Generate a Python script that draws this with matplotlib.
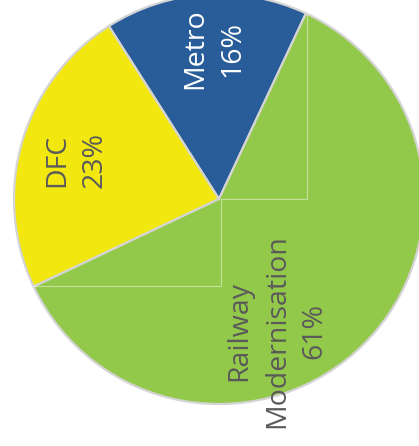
import matplotlib
matplotlib.use("Agg")
import matplotlib.pyplot as plt

# Investment share by segment
segments = ["Metro", "DFC", "Railway\nModernisation"]
shares = [16, 23, 61]
colors = ["#285d99", "#f2e80f", "#93c94a"]
label_colors = ["white", "#5a5a5a", "#5a5a5a"]

W, H = 419, 446
CX, CY, R = 219, 247, 205

fig = plt.figure(figsize=(W / 100, H / 100), dpi=100)
ax = fig.add_axes([0, 0, 1, 1])

wedges, _ = ax.pie(
    shares, colors=colors, startangle=64.9, counterclock=True,
    center=(CX, CY), radius=R,
    wedgeprops=dict(edgecolor="#d4d4d4", linewidth=1.6),
)
ax.set_xlim(0, W)
ax.set_ylim(0, H)
ax.set_aspect("equal")
ax.axis("off")

# faint leader lines from the centre
ax.plot([CX + 2, 307, 307], [CY, CY, 436], color="white", lw=0.8, alpha=0.45)
ax.plot([CX + 2, CX + 2, 32], [CY, 160, 160], color="white", lw=0.8, alpha=0.45)

# labels, rotated to read bottom-to-top
label_pos = [(214, 397), (76, 286), (277, 115)]
for name, pct, (x, y), c in zip(segments, shares, label_pos, label_colors):
    ax.text(x, y, f"{name}\n{pct}%", rotation=90, ha="center", va="center",
            multialignment="center", fontsize=20.5, color=c,
            family="Open Sans", linespacing=1.45)

fig.savefig("out.png", dpi=100)
